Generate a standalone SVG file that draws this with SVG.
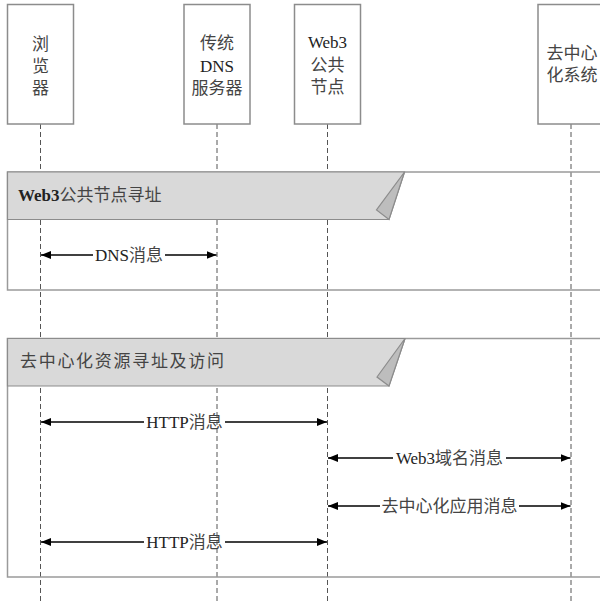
<svg xmlns="http://www.w3.org/2000/svg" width="600" height="604" viewBox="0 0 600 604">
  <defs>
    <style>
      .bg { fill: #ffffff; }
      .box { fill: #ffffff; stroke: #8c8c8c; stroke-width: 1.5; }
      .life { stroke: #555555; stroke-width: 1; stroke-dasharray: 5 3; fill: none; }
      .frame { fill: none; stroke: #9a9a9a; stroke-width: 1.5; }
      .band { fill: #d9d9d9; stroke: #8c8c8c; stroke-width: 1.2; }
      .fold { fill: #bdbdbd; stroke: #8c8c8c; stroke-width: 1.2; }
      .msg { stroke: #000000; stroke-width: 1.3; fill: none; }
      text { font-family: "Liberation Serif", "Noto Sans CJK SC", serif; font-size: 17px; fill: #222222; }
      .c { text-anchor: middle; }
      .cjk { fill: #444444; }
    </style>
    <marker id="arrow" viewBox="0 0 10 8" markerWidth="10" markerHeight="8" refX="10" refY="4" orient="auto-start-reverse" markerUnits="userSpaceOnUse">
      <path d="M0,0 L10,4 L0,8 z" fill="#000000"/>
    </marker>
  </defs>

  <rect class="bg" x="0" y="0" width="600" height="604"/>

  <!-- lifelines -->
  <g id="lifelines">
    <line class="life" x1="40.5" y1="124" x2="40.5" y2="604"/>
    <line class="life" x1="217" y1="124" x2="217" y2="604"/>
    <line class="life" x1="327.5" y1="124" x2="327.5" y2="604"/>
    <line class="life" x1="571" y1="124" x2="571" y2="604"/>
  </g>

  <!-- participants -->
  <g id="browser">
    <rect class="box" x="7.5" y="4.5" width="66" height="119.5"/>
    <text class="c cjk" x="40.5" y="50">浏</text>
    <text class="c cjk" x="40.5" y="72">览</text>
    <text class="c cjk" x="40.5" y="94">器</text>
  </g>
  <g id="dns-server">
    <rect class="box" x="184" y="4.5" width="66" height="119.5"/>
    <text class="c cjk" x="217" y="49">传统</text>
    <text class="c" x="217" y="72">DNS</text>
    <text class="c cjk" x="217" y="94">服务器</text>
  </g>
  <g id="web3-node">
    <rect class="box" x="294.5" y="4.5" width="66" height="119.5"/>
    <text class="c" x="327.5" y="48">Web3</text>
    <text class="c cjk" x="327.5" y="71">公共</text>
    <text class="c cjk" x="327.5" y="93">节点</text>
  </g>
  <g id="decentralized-system">
    <rect class="box" x="538" y="4.5" width="66" height="119.5"/>
    <text class="c cjk" x="572" y="59">去中心</text>
    <text class="c cjk" x="572" y="81">化系统</text>
  </g>

  <!-- fragment: node addressing -->
  <g id="frame-node-addressing">
    <rect class="frame" x="7.5" y="172" width="620" height="118"/>
    <polygon class="band" points="7.5,172 404.5,172 389,219.5 7.5,219.5"/>
    <polygon class="fold" points="404.5,172 376.5,210 389,219.5"/>
    <text x="18" y="201"><tspan font-weight="bold">Web3</tspan><tspan class="cjk">公共节点寻址</tspan></text>
  </g>

  <!-- fragment: resource addressing and access -->
  <g id="frame-resource-access">
    <rect class="frame" x="7.5" y="338.5" width="620" height="238.5"/>
    <polygon class="band" points="7.5,338.5 405,338.5 389,386 7.5,386"/>
    <polygon class="fold" points="405,338.5 377,377 389,386"/>
    <text class="cjk" x="20" y="367" letter-spacing="1.7">去中心化资源寻址及访问</text>
  </g>

  <!-- messages -->
  <g id="connectors">
    <line class="msg" x1="93" y1="255" x2="41" y2="255" marker-end="url(#arrow)"/>
    <line class="msg" x1="165" y1="255" x2="216.5" y2="255" marker-end="url(#arrow)"/>
    <text x="129" y="260.5" class="c">DNS<tspan class="cjk">消息</tspan></text>

    <line class="msg" x1="144" y1="422" x2="41" y2="422" marker-end="url(#arrow)"/>
    <line class="msg" x1="225" y1="422" x2="327" y2="422" marker-end="url(#arrow)"/>
    <text x="184.5" y="428" class="c">HTTP<tspan class="cjk">消息</tspan></text>

    <line class="msg" x1="393" y1="458" x2="328" y2="458" marker-end="url(#arrow)"/>
    <line class="msg" x1="506" y1="458" x2="570.5" y2="458" marker-end="url(#arrow)"/>
    <text x="449.5" y="464" class="c">Web3<tspan class="cjk">域名消息</tspan></text>

    <line class="msg" x1="380" y1="506" x2="328" y2="506" marker-end="url(#arrow)"/>
    <line class="msg" x1="519" y1="506" x2="570.5" y2="506" marker-end="url(#arrow)"/>
    <text x="449.5" y="512" class="c cjk">去中心化应用消息</text>

    <line class="msg" x1="144" y1="542" x2="41" y2="542" marker-end="url(#arrow)"/>
    <line class="msg" x1="225" y1="542" x2="327" y2="542" marker-end="url(#arrow)"/>
    <text x="184.5" y="548" class="c">HTTP<tspan class="cjk">消息</tspan></text>
  </g>
</svg>
